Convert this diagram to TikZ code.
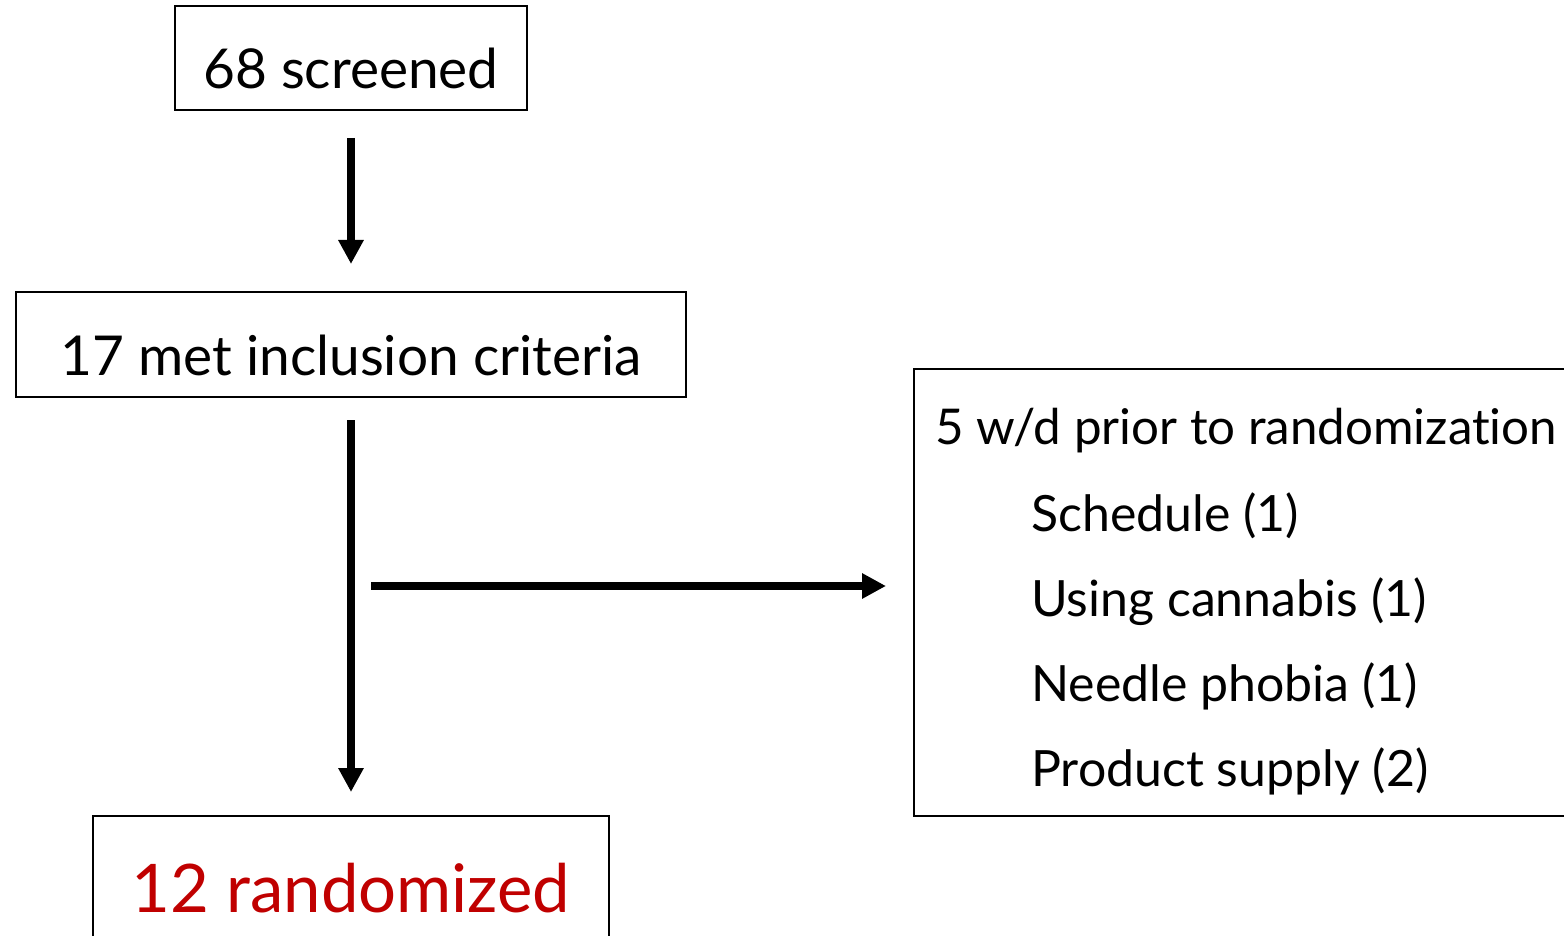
\documentclass[tikz,border=0pt]{standalone}
\usepackage{fontspec}
\setmainfont{Lato}[Ligatures=NoCommon]
\usepackage{xcolor}
\usetikzlibrary{arrows.meta,positioning}
\definecolor{randred}{RGB}{192,0,0}

\begin{document}
\begin{tikzpicture}[x=1pt, y=-1pt,
        box/.style = {draw, line width=2pt, inner sep=0pt},
        flow/.style = {-{Triangle[length=24pt,width=24pt]}, line width=8pt},
        big/.style = {font=\fontsize{55}{66}\selectfont, text height=62pt, text depth=0pt},
        item/.style = {font=\fontsize{50}{60}\selectfont, anchor=base west, inner sep=0pt}]
        \useasboundingbox (0,0) rectangle (1564,936);
        \clip (0,0) rectangle (1564,936);

        \node[box, big, minimum width=352pt, minimum height=104pt] (scr) at (351,58) {68 screened};
        \node[box, big, minimum width=670pt, minimum height=105pt] (met) at (351,344.5) {17 met inclusion criteria};
        \node[box, font=\fontsize{67}{80}\selectfont, text height=32pt, text depth=0pt, text=randred,
            minimum width=516pt, minimum height=160pt] (rnd) at (351,896) {12 randomized};
        \node[box, minimum width=700pt, minimum height=447pt] (wd) at (1264,592.5) {};

        \node[item, font=\fontsize{49.3}{60}\selectfont] (wdhead) at (935,444) {5 w/d prior to randomization};
        \node[item] (sched) at (1031,531) {Schedule (1)};
        \node[item] (canna) at (1031,616) {Using cannabis (1)};
        \node[item] (needle) at (1031,701) {Needle phobia (1)};
        \node[item] (supply) at (1031,786) {Product supply (2)};

        \coordinate (split) at (351,586);

        \draw[flow, shorten <=27pt, shorten >=27pt] (scr) -- (met);
        \draw[flow, shorten <=22pt, shorten >=23pt] (met) -- (rnd);
        \draw[flow, shorten <=20pt, shorten >=27pt] (split) -- (split -| wd.west);
    \end{tikzpicture}
\end{document}
